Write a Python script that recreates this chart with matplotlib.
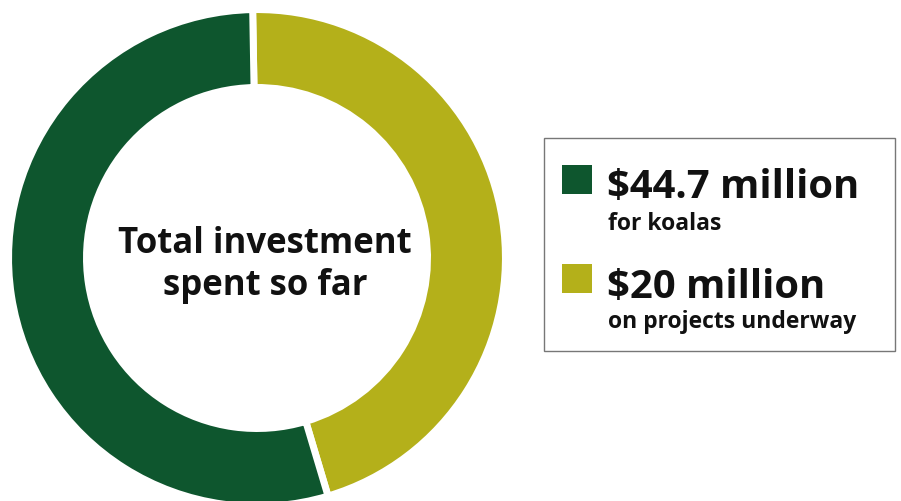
import matplotlib
matplotlib.use("Agg")
import matplotlib.pyplot as plt
from matplotlib.patches import Rectangle

# Data
labels = ["$44.7 million", "$20 million"]
sublabels = ["for koalas", "on projects underway"]
slice_values = [23.8, 20.0]   # wedge sizes (green, yellow)
colors = ["#0E562E", "#B4B01A"]
center_lines = ["Total investment", "spent so far"]

W, H = 901, 501
fig = plt.figure(figsize=(W / 100, H / 100), dpi=100)
fig.patch.set_facecolor("white")
FONT = "Open Sans"

# donut axes
cx, cy, R = 257, 258, 245
ax = fig.add_axes([(cx - R) / W, (H - cy - R) / H, 2 * R / W, 2 * R / H])
ax.pie(slice_values[::-1], colors=colors[::-1], startangle=91, counterclock=False,
       radius=1.014, wedgeprops=dict(width=0.318, edgecolor="white", linewidth=5))
ax.set_xlim(-1, 1)
ax.set_ylim(-1, 1)
ax.set_aspect("equal")
ax.axis("off")

def fx(x):
    return x / W

def fy(y):
    return 1 - y / H

center_base = [253, 295]
for line, b in zip(center_lines, center_base):
    fig.text(fx(265), fy(b), line, ha="center", va="baseline", fontsize=25,
             fontweight="bold", family=FONT, color="#111111")

fig.patches.append(Rectangle((fx(544), fy(351)), fx(895) - fx(544), fy(138) - fy(351),
                             transform=fig.transFigure, facecolor="white",
                             edgecolor="#777777", linewidth=1))
sq_top = [165, 264]
main_base = [198, 298]
sub_base = [230, 328]
for i in range(2):
    fig.patches.append(Rectangle((fx(562), fy(sq_top[i] + 29)), fx(30), 29 / H,
                                 transform=fig.transFigure, facecolor=colors[i],
                                 edgecolor="none"))
    fig.text(fx(607), fy(main_base[i]), labels[i], ha="left", va="baseline",
             fontsize=28.8, fontweight="bold", family=FONT, color="#111111")
    fig.text(fx(608), fy(sub_base[i]), sublabels[i], ha="left", va="baseline",
             fontsize=16.5, fontweight="bold", family=FONT, color="#111111")

fig.savefig("out.png", dpi=100, facecolor="white")
